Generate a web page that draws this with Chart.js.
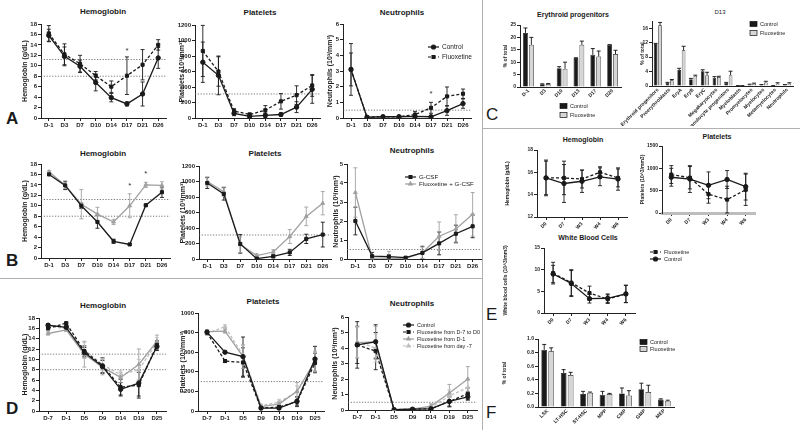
<!DOCTYPE html>
<html>
<head>
<meta charset="utf-8">
<script src="https://cdn.jsdelivr.net/npm/chart.js@4.4.1/dist/chart.umd.min.js"></script>
<style>
  body { margin: 0; background: #fff; width: 800px; height: 430px; position: relative; overflow: hidden;
         font-family: "Liberation Sans", Arial, sans-serif; color: #1a1a1a; }
  canvas { position: absolute; }
  .t { position: absolute; font-weight: bold; font-size: 8px; line-height: 1; transform: translateX(-50%); white-space: nowrap; color: #1a1a1a; }
  .L { position: absolute; font-size: 17px; line-height: 1; }
  .sep { position: absolute; background: #b0b0b0; }
</style>
</head>
<body>
<div class="sep" style="left:0;top:278px;width:482px;height:1px"></div>
<div class="sep" style="left:482px;top:0;width:1px;height:430px"></div>
<div class="sep" style="left:482px;top:128px;width:318px;height:1px"></div>

<div class="L" style="left:6px;top:110px;font-weight:bold">A</div>
<div class="L" style="left:6px;top:252px;font-weight:bold">B</div>
<div class="L" style="left:6px;top:400px;font-weight:bold">D</div>
<div class="L" style="left:486px;top:106px">C</div>
<div class="L" style="left:486px;top:306px">E</div>
<div class="L" style="left:486px;top:404px">F</div>

<div class="t" style="left:103px;top:8px">Hemoglobin</div>
<div class="t" style="left:260px;top:9px">Platelets</div>
<div class="t" style="left:402px;top:9px">Neutrophils</div>
<div class="t" style="left:103px;top:150px">Hemoglobin</div>
<div class="t" style="left:265px;top:150px">Platelets</div>
<div class="t" style="left:412px;top:147px">Neutrophils</div>
<div class="t" style="left:103px;top:302px">Hemoglobin</div>
<div class="t" style="left:263px;top:298px">Platelets</div>
<div class="t" style="left:412px;top:300px">Neutrophils</div>
<div class="t" style="left:573px;top:11px;font-size:7px">Erythroid progenitors</div>
<div class="t" style="left:720px;top:9px;font-size:6px;font-weight:normal">D13</div>
<div class="t" style="left:583px;top:136px;font-size:7px">Hemoglobin</div>
<div class="t" style="left:717px;top:133px;font-size:7px">Platelets</div>
<div class="t" style="left:588px;top:234px;font-size:7px">White Blood Cells</div>

<script>
// ---- panel A ----
const aDays = ['D-1', 'D3', 'D7', 'D10', 'D14', 'D17', 'D21', 'D26'];
const aHbCtrl = [15.8, 11.8, 9.9, 6.8, 3.9, 2.7, 4.6, 11.5];
const aHbCtrlSd = [1.2, 1.8, 1.2, 1.6, 0.8, 0.4, 2.3, 2.0];
const aHbFlx = [16.2, 12.2, 10.4, 8.1, 6.0, 8.1, 10.2, 14.0];
const aHbFlxSd = [1.5, 2.0, 1.6, 0.8, 1.1, 3.6, 2.9, 1.0];
const aPltCtrl = [720, 550, 60, 20, 35, 45, 140, 370];
const aPltCtrlSd = [260, 250, 30, 20, 30, 20, 70, 180];
const aPltFlx = [865, 600, 90, 45, 100, 215, 295, 420];
const aPltFlxSd = [330, 190, 30, 20, 60, 100, 120, 140];
const aNeuCtrl = [3.1, 0.05, 0.08, 0.08, 0.1, 0.08, 0.47, 0.92];
const aNeuCtrlSd = [1.05, 0.03, 0.03, 0.03, 0.05, 0.05, 0.3, 0.3];
const aNeuFlx = [3.1, 0.05, 0.08, 0.08, 0.22, 0.65, 1.38, 1.55];
const aNeuFlxSd = [1.65, 0.03, 0.03, 0.03, 0.2, 0.35, 0.6, 0.3];

// ---- panel B ----
const bHbGcsf = [16.0, 13.9, 10.0, 6.9, 3.2, 2.6, 10.1, 12.6];
const bHbGcsfSd = [0.2, 0.8, 0.5, 1.2, 0.4, 0.15, 0.2, 1.0];
const bHbFlx = [16.5, 13.9, 10.3, 8.4, 6.9, 10.0, 14.0, 13.9];
const bHbFlxSd = [0.2, 0.6, 2.8, 1.3, 0.5, 2.3, 0.5, 0.7];
const bPltGcsf = [980, 840, 195, 5, 35, 85, 260, 315];
const bPltGcsfSd = [70, 80, 120, 10, 20, 40, 60, 160];
const bPltFlx = [1000, 870, 185, 45, 90, 290, 550, 720];
const bPltFlxSd = [60, 60, 100, 20, 30, 90, 120, 150];
const bNeuGcsf = [2.0, 0.15, 0.12, 0.07, 0.32, 0.82, 1.33, 1.72];
const bNeuGcsfSd = [0.73, 0.2, 0.1, 0.05, 0.35, 0.6, 0.45, 0.6];
const bNeuFlx = [3.5, 0.05, 0.05, 0.03, 0.33, 1.2, 1.58, 2.35];
const bNeuFlxSd = [1.3, 0.1, 0.35, 0.05, 0.3, 0.75, 0.75, 1.15];

// ---- panel D ----
const dDays = ['D-7', 'D-1', 'D5', 'D9', 'D14', 'D19', 'D25'];
const dHbCtrl = [16.6, 16.2, 11.3, 8.6, 4.2, 5.4, 12.5];
const dHbCtrlSd = [0.3, 0.3, 1.0, 1.2, 1.3, 2.5, 0.8];
const dHbFlx70 = [16.0, 17.0, 11.6, 8.8, 4.6, 5.0, 12.8];
const dHbFlx70Sd = [0.3, 0.2, 1.0, 1.5, 1.5, 2.5, 0.8];
const dHbFlx1 = [15.0, 15.7, 11.0, 8.5, 6.5, 9.0, 13.5];
const dHbFlx1Sd = [0.3, 0.3, 2.5, 1.5, 1.0, 3.0, 1.2];
const dHbFlx7 = [16.3, 16.0, 11.8, 9.0, 7.0, 8.0, 13.2];
const dHbFlx7Sd = [0.3, 0.3, 1.5, 1.2, 0.8, 2.0, 1.0];
const dPltCtrl = [805, 600, 555, 30, 30, 100, 530];
const dPltCtrlSd = [20, 10, 200, 15, 15, 40, 130];
const dPltFlx70 = [800, 510, 495, 30, 40, 95, 490];
const dPltFlx70Sd = [20, 15, 150, 15, 20, 50, 100];
const dPltFlx1 = [810, 815, 555, 45, 70, 200, 510];
const dPltFlx1Sd = [20, 20, 120, 15, 30, 90, 100];
const dPltFlx7 = [790, 860, 570, 55, 90, 195, 500];
const dPltFlx7Sd = [20, 20, 100, 15, 30, 60, 100];
const dNeuCtrl = [4.2, 4.4, 0.02, 0.05, 0.07, 0.55, 0.85];
const dNeuCtrlSd = [1.5, 1.1, 0.02, 0.02, 0.05, 0.35, 0.2];
const dNeuFlx70 = [4.2, 3.8, 0.02, 0.05, 0.08, 0.55, 1.05];
const dNeuFlx70Sd = [1.2, 1.2, 0.02, 0.02, 0.05, 0.3, 0.4];
const dNeuFlx1 = [4.35, 4.4, 0.02, 0.05, 0.25, 1.1, 2.0];
const dNeuFlx1Sd = [1.0, 1.0, 0.02, 0.02, 0.15, 0.55, 0.8];
const dNeuFlx7 = [4.4, 4.0, 0.02, 0.05, 0.15, 0.9, 1.45];
const dNeuFlx7Sd = [1.0, 0.9, 0.02, 0.02, 0.1, 0.4, 0.5];

// ---- panel C ----
const cEryDays = ['D-1', 'D3', 'D10', 'D13', 'D17', 'D20'];
const cEryCtrl = [21.8, 1.1, 7.6, 11.7, 13.0, 17.0];
const cEryCtrlSd = [2.0, 0.2, 0.6, 0.1, 2.5, 0.1];
const cEryFlx = [17.0, 1.2, 7.3, 17.0, 12.3, 13.3];
const cEryFlxSd = [3.0, 0.2, 2.7, 1.5, 2.2, 1.5];
const cCells = ['Erythroid progenitors', 'Proerythroblasts', 'EryA', 'EryB', 'EryC', 'Megakaryocytes',
  'Granulocyte progenitors', 'Myeloblasts', 'Promyelocytes', 'Myelocytes', 'Metamyelocytes', 'Neutrophils'];
const cD13Ctrl = [11.6, 0.9, 4.4, 1.9, 4.1, 2.3, 0.9, 0.1, 0.4, 0.35, 0.1, 0.35];
const cD13CtrlSd = [0.2, 0.1, 0.5, 0.2, 0.4, 0.3, 0.1, 0.02, 0.1, 0.05, 0.02, 0.05];
const cD13Flx = [16.8, 1.6, 9.9, 2.8, 3.0, 2.5, 3.0, 0.1, 0.6, 1.0, 0.7, 0.7];
const cD13FlxSd = [0.8, 0.2, 1.1, 0.2, 0.8, 0.2, 1.1, 0.02, 0.2, 0.3, 0.2, 0.2];

// ---- panel E ----
const eWeeks = ['D0', 'D7', 'W3', 'W4', 'W6'];
const eHbCtrl = [15.5, 15.0, 15.2, 15.6, 15.4];
const eHbCtrlSd = [1.6, 1.7, 1.0, 0.8, 1.0];
const eHbFlx = [15.5, 15.5, 15.4, 16.0, 15.5];
const eHbFlxSd = [1.5, 1.5, 0.8, 0.5, 0.8];
const ePltCtrl = [800, 760, 620, 750, 590];
const ePltCtrlSd = [200, 300, 300, 200, 300];
const ePltFlx = [860, 790, 420, 300, 520];
const ePltFlxSd = [200, 250, 200, 300, 350];
const eWbcCtrl = [9.0, 6.8, 3.3, 3.4, 4.4];
const eWbcCtrlSd = [2.0, 3.0, 1.0, 1.0, 2.0];
const eWbcFlx = [9.2, 7.0, 4.6, 3.2, 4.4];
const eWbcFlxSd = [2.5, 3.0, 1.6, 1.0, 2.0];

// ---- panel F ----
const fCells = ['LSK', 'LT-HSC', 'ST-HSC', 'MPP', 'CMP', 'GMP', 'MEP'];
const fCtrl = [0.84, 0.50, 0.19, 0.18, 0.20, 0.26, 0.11];
const fCtrlSd = [0.08, 0.05, 0.04, 0.05, 0.08, 0.09, 0.01];
const fFlx = [0.82, 0.47, 0.21, 0.19, 0.17, 0.22, 0.09];
const fFlxSd = [0.05, 0.04, 0.01, 0.01, 0.07, 0.10, 0.01];

const K = '#1a1a1a', G = '#a0a0a0', G2 = '#bdbdbd', LB = '#d6d6d6';
Chart.defaults.font.family = '"Liberation Sans", Arial, sans-serif';
Chart.defaults.color = '#222';

// error bars, dotted reference lines, stars and legends
const extras = {
  id: 'extras',
  beforeDatasetsDraw(chart, args, o) {
    const ctx = chart.ctx, a = chart.chartArea, y = chart.scales.y;
    ctx.save();
    ctx.strokeStyle = '#555';
    ctx.lineWidth = 0.8;
    ctx.setLineDash([1.2, 1.6]);
    (o.refs || []).forEach(v => {
      const py = y.getPixelForValue(v);
      ctx.beginPath(); ctx.moveTo(a.left, py); ctx.lineTo(a.right, py); ctx.stroke();
    });
    ctx.restore();
    if (chart.config.type === 'line') drawErr(chart, false);
  },
  afterDatasetsDraw(chart, args, o) {
    const ctx = chart.ctx;
    if (chart.config.type === 'bar') drawErr(chart, true);
    ctx.save();
    ctx.fillStyle = '#333';
    ctx.font = '8px "Liberation Sans", Arial';
    ctx.textAlign = 'center';
    (o.stars || []).forEach(s => {
      ctx.fillText('*', chart.scales.x.getPixelForTick(s[0]), chart.scales.y.getPixelForValue(s[1]) + 4);
    });
    const lg = o.legend;
    if (lg) {
      ctx.font = (o.lfs || 6.5) + 'px "Liberation Sans", Arial';
      ctx.textAlign = 'left';
      ctx.textBaseline = 'middle';
      chart.data.datasets.forEach((ds, i) => {
        const x = lg.x - o.ox, yy = lg.y - o.oy + i * lg.dy;
        if (chart.config.type === 'bar') {
          ctx.fillStyle = ds.backgroundColor; ctx.strokeStyle = '#111'; ctx.lineWidth = 0.7;
          ctx.fillRect(x, yy - 2.5, 7, 5); ctx.strokeRect(x, yy - 2.5, 7, 5);
          ctx.fillStyle = '#222'; ctx.fillText(ds.label, x + 10, yy);
        } else {
          ctx.strokeStyle = ds.borderColor; ctx.lineWidth = 1.2;
          ctx.setLineDash(ds.borderDash || []);
          ctx.beginPath(); ctx.moveTo(x, yy); ctx.lineTo(x + 11, yy); ctx.stroke();
          ctx.setLineDash([]);
          ctx.fillStyle = ds.borderColor;
          Chart.helpers.drawPoint(ctx, {pointStyle: ds.pointStyle, radius: 2, rotation: 0, borderWidth: 1}, x + 5.5, yy);
          ctx.fillStyle = '#222'; ctx.fillText(ds.label, x + 14, yy);
        }
      });
    }
    ctx.restore();
  }
};

function drawErr(chart, upOnly) {
  const ctx = chart.ctx, y = chart.scales.y;
  chart.data.datasets.forEach((ds, di) => {
    if (!ds.sd) return;
    const meta = chart.getDatasetMeta(di);
    ctx.save();
    ctx.strokeStyle = ds.errColor || ds.borderColor;
    ctx.lineWidth = 0.9;
    ds.data.forEach((v, i) => {
      const e = ds.sd[i];
      if (v == null || !e) return;
      const x = meta.data[i].x;
      const top = y.getPixelForValue(v + e);
      const bot = upOnly ? y.getPixelForValue(v) : y.getPixelForValue(Math.max(v - e, y.min));
      ctx.beginPath();
      ctx.moveTo(x, top); ctx.lineTo(x, bot);
      ctx.moveTo(x - 2, top); ctx.lineTo(x + 2, top);
      if (!upOnly) { ctx.moveTo(x - 2, bot); ctx.lineTo(x + 2, bot); }
      ctx.stroke();
    });
    ctx.restore();
  });
}
Chart.register(extras);

function S(label, data, sd, color, dash, point) {
  return {label, data, sd, color, dash, point};
}

function makeChart(type, p) {
  const fs = p.fs || 6, ts = p.ts || 7;
  const [l, t, r, b] = p.plot;
  const axisLeft = p.tx - ts * 0.6;
  const padL = p.padL || 2, padT = 8, padR = p.padR || 8;
  const cl = Math.round(axisLeft - padL), ct = t - padT;
  const w = Math.round(r - cl + padR), h = b - ct + p.xh + 2;
  const cv = document.createElement('canvas');
  cv.style.left = cl + 'px'; cv.style.top = ct + 'px';
  cv.style.width = w + 'px'; cv.style.height = h + 'px';
  cv.width = w; cv.height = h;
  document.body.appendChild(cv);
  const yw = l - cl - padL;
  const grid = {display: true, drawOnChartArea: false, drawTicks: true, tickLength: 3, color: '#222', offset: false};

  const datasets = p.series.map(s => type === 'line' ? {
    label: s.label, data: s.data, sd: s.sd,
    borderColor: s.color, backgroundColor: s.color, borderWidth: 1.3,
    borderDash: s.dash ? [3, 2] : [], pointStyle: s.point, pointRadius: 2.2, pointBorderWidth: 1,
    tension: 0, fill: false
  } : {
    label: s.label, data: s.data, sd: s.sd,
    backgroundColor: s.color, borderColor: '#111', errColor: '#111', borderWidth: 0.7,
    categoryPercentage: p.cat || 0.7, barPercentage: 0.82
  });

  const yTicks = {stepSize: p.y[2], padding: 1, font: {size: fs, weight: 'bold'},
                  callback: v => p.yfmt ? p.yfmt(v) : String(v)};

  new Chart(cv, {
    type,
    data: {labels: p.labels, datasets},
    options: {
      responsive: false, animation: false, devicePixelRatio: 1,
      layout: {padding: {left: padL, top: padT, right: padR, bottom: 2}},
      plugins: {
        legend: {display: false}, tooltip: {enabled: false},
        extras: {refs: p.refs || [], stars: p.stars || [], legend: p.legend || null, ox: cl, oy: ct, lfs: p.lfs || 6.5}
      },
      scales: {
        x: {
          offset: true, grid: {...grid, tickLength: type === 'bar' ? 0 : 3},
          border: p.xBorder || {color: '#222'},
          ticks: {autoSkip: false, maxRotation: p.rot || 0, minRotation: p.rot || 0, padding: 1,
                  font: {size: fs, weight: 'bold'}},
          afterFit: s => { s.height = p.xh; s.paddingLeft = 0; s.paddingRight = 0; }
        },
        y: {
          min: p.y[0], max: p.y[1], ticks: yTicks, grid, border: {color: '#222'},
          title: {display: true, text: p.yt, padding: 0, font: {size: ts, weight: 'bold'}},
          afterFit: s => { s.width = yw; s.paddingTop = 0; s.paddingBottom = 0; }
        }
      }
    }
  });
}

// panel A
makeChart('line', {plot: [41, 24, 166, 118], tx: 25, xh: 14, labels: aDays, y: [0, 18, 2], yt: 'Hemoglobin (g/dL)',
  refs: [11.2, 8], stars: [[5, 13.3]],
  series: [S('Control', aHbCtrl, aHbCtrlSd, K, false, 'circle'), S('Fluoxetine', aHbFlx, aHbFlxSd, K, true, 'rect')]});
makeChart('line', {plot: [195, 25, 320, 118], tx: 182, xh: 14, labels: aDays, y: [0, 1200, 200], yt: 'Platelets (10³/mm³)',
  refs: [310],
  series: [S('Control', aPltCtrl, aPltCtrlSd, K, false, 'circle'), S('Fluoxetine', aPltFlx, aPltFlxSd, K, true, 'rect')]});
makeChart('line', {plot: [343, 24, 471, 118], tx: 330, xh: 14, labels: aDays, y: [0, 6, 1], yt: 'Neutrophils (10³/mm³)',
  refs: [0.5], stars: [[5, 1.63]], legend: {x: 428, y: 47, dy: 10}, padR: 12,
  series: [S('Control', aNeuCtrl, aNeuCtrlSd, K, false, 'circle'), S('Fluoxetine', aNeuFlx, aNeuFlxSd, K, true, 'rect')]});

// panel B
makeChart('line', {plot: [41, 164, 170, 258], tx: 25, xh: 14, labels: aDays, y: [0, 18, 2], yt: 'Hemoglobin (g/dL)',
  refs: [11.2, 8], stars: [[5, 14.2], [6, 16.5]],
  series: [S('G-CSF', bHbGcsf, bHbGcsfSd, K, false, 'rect'), S('Fluoxetine + G-CSF', bHbFlx, bHbFlxSd, G, false, 'triangle')]});
makeChart('line', {plot: [199, 166, 331, 259], tx: 183, xh: 14, labels: aDays, y: [0, 1200, 200], yt: 'Platelets (10³/mm³)',
  refs: [310],
  series: [S('G-CSF', bPltGcsf, bPltGcsfSd, K, false, 'rect'), S('Fluoxetine + G-CSF', bPltFlx, bPltFlxSd, G, false, 'triangle')]});
makeChart('line', {plot: [347, 164, 481, 259], tx: 336, xh: 14, labels: aDays, y: [0, 5, 1], yt: 'Neutrophils (10³/mm³)',
  refs: [0.5], legend: {x: 405, y: 177, dy: 7}, lfs: 6.2,
  series: [S('G-CSF', bNeuGcsf, bNeuGcsfSd, K, false, 'rect'), S('Fluoxetine + G-CSF', bNeuFlx, bNeuFlxSd, G, false, 'triangle')]});

// panel D
const dSeries = (c, c70, c1, c7, sc, s70, s1, s7) => [
  S('Control', c, sc, K, false, 'circle'),
  S('Fluoxetine from D-7 to D0', c70, s70, K, true, 'rect'),
  S('Fluoxetine from D-1', c1, s1, G, false, 'triangle'),
  S('Fluoxetine from day -7', c7, s7, G2, true, 'triangle')];
makeChart('line', {plot: [39, 318, 166, 411], tx: 25, xh: 14, labels: dDays, y: [0, 18, 2], yt: 'Hemoglobin (g/dL)',
  refs: [11, 8], series: dSeries(dHbCtrl, dHbFlx70, dHbFlx1, dHbFlx7, dHbCtrlSd, dHbFlx70Sd, dHbFlx1Sd, dHbFlx7Sd)});
makeChart('line', {plot: [198, 313, 324, 411], tx: 183, xh: 14, labels: dDays, y: [0, 1000, 200], yt: 'Platelets (10³/mm³)',
  refs: [300], series: dSeries(dPltCtrl, dPltFlx70, dPltFlx1, dPltFlx7, dPltCtrlSd, dPltFlx70Sd, dPltFlx1Sd, dPltFlx7Sd)});
makeChart('line', {plot: [348, 317, 477, 410], tx: 335, xh: 14, labels: dDays, y: [0, 6, 1], yt: 'Neutrophils (10³/mm³)',
  refs: [0.5], legend: {x: 403, y: 325, dy: 7}, lfs: 5.5, padR: 5,
  series: dSeries(dNeuCtrl, dNeuFlx70, dNeuFlx1, dNeuFlx7, dNeuCtrlSd, dNeuFlx70Sd, dNeuFlx1Sd, dNeuFlx7Sd)});

// panel C
makeChart('bar', {plot: [520, 25, 621, 87], tx: 506, xh: 34, rot: 45, fs: 5, ts: 5, lfs: 5.5, padL: 4,
  labels: cEryDays, y: [0, 25, 5], yt: '% of total', legend: {x: 560, y: 106, dy: 9},
  series: [S('Control', cEryCtrl, cEryCtrlSd, K), S('Fluoxetine', cEryFlx, cEryFlxSd, LB)]});
makeChart('bar', {plot: [652, 21, 793, 86], tx: 643, xh: 40, rot: 45, fs: 5, ts: 5, lfs: 5.5, padL: 30, padR: 5,
  labels: cCells, y: [0, 18, 2], yt: '% of total', legend: {x: 750, y: 24, dy: 9}, cat: 0.75,
  series: [S('Control', cD13Ctrl, cD13CtrlSd, K), S('Fluoxetine', cD13Flx, cD13FlxSd, LB)]});

// panel E
makeChart('line', {plot: [537, 150, 627, 217], tx: 508, xh: 16, rot: 45, fs: 5, ts: 5, labels: eWeeks, y: [12, 18, 2],
  yt: 'Hemoglobin (g/dL)',
  series: [S('Fluoxetine', eHbFlx, eHbFlxSd, K, true, 'rect'), S('Control', eHbCtrl, eHbCtrlSd, K, false, 'circle')]});
makeChart('line', {plot: [662, 146, 755, 213], tx: 643, xh: 16, rot: 45, fs: 5, ts: 5, labels: eWeeks, y: [0, 1500, 500],
  yt: 'Platelets (10^3/mm3)', xBorder: {color: '#bdbdbd', width: 3},
  series: [S('Fluoxetine', ePltFlx, ePltFlxSd, K, true, 'rect'), S('Control', ePltCtrl, ePltCtrlSd, K, false, 'circle')]});
makeChart('line', {plot: [544, 248, 635, 313], tx: 506, xh: 16, rot: 45, fs: 5, ts: 5, lfs: 5.5, labels: eWeeks, y: [0, 15, 5],
  yt: 'White blood cells (10^3/mm3)', legend: {x: 650, y: 252, dy: 7}, padR: 60,
  series: [S('Fluoxetine', eWbcFlx, eWbcFlxSd, K, true, 'rect'), S('Control', eWbcCtrl, eWbcCtrlSd, K, false, 'circle')]});

// panel F
makeChart('bar', {plot: [538, 339, 674, 407], tx: 505, xh: 18, rot: 45, fs: 5, ts: 5, lfs: 5.5, padL: 4,
  labels: fCells, y: [0, 1, 0.2], yt: '% of total', legend: {x: 640, y: 342, dy: 7}, cat: 0.72,
  yfmt: v => v.toFixed(1),
  series: [S('Control', fCtrl, fCtrlSd, K), S('Fluoxetine', fFlx, fFlxSd, LB)]});
</script>
</body>
</html>
